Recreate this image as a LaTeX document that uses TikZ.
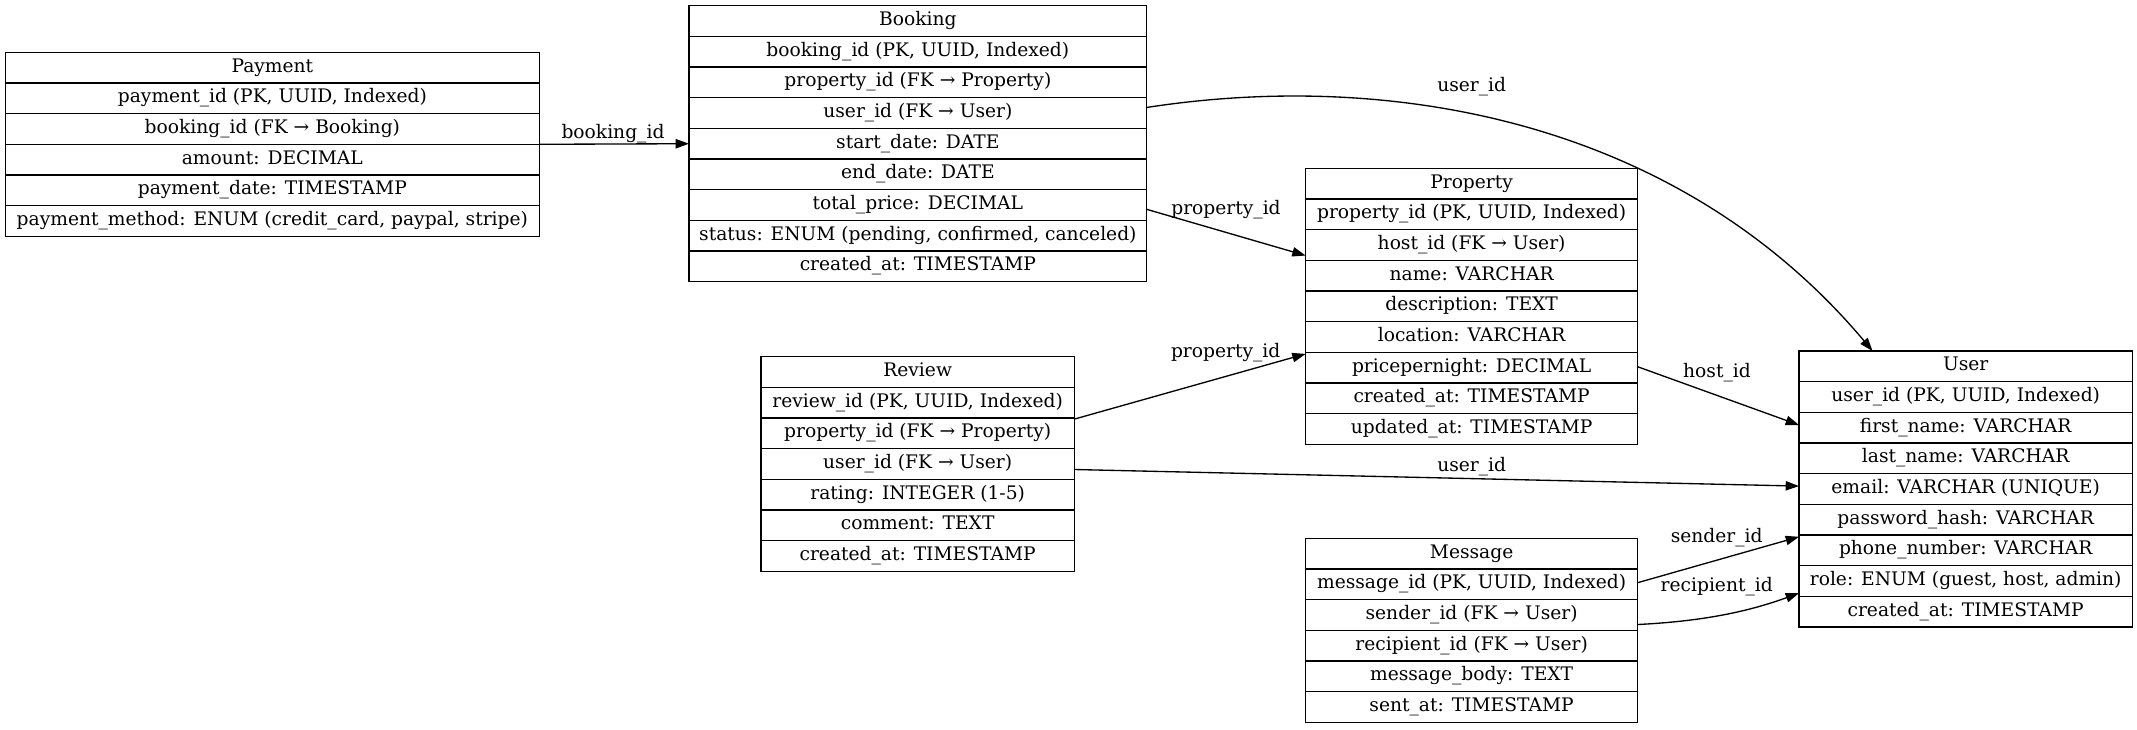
\documentclass[tikz,border=0pt]{standalone}
\usepackage{fontspec}
\setmainfont{DejaVu Serif}
\usetikzlibrary{arrows.meta}

\tikzset{
  tblframe/.style={rectangle, draw=black, line width=1pt, inner sep=0pt, outer sep=0pt},
  tblrow/.style={rectangle, inner sep=0pt, outer sep=0pt,
    minimum height=23pt, text height=9.9pt, text depth=3pt, anchor=north west},
  tblsep/.style={draw=black, line width=1pt},
  fk/.style={draw=black, line width=1pt, -{Triangle[length=10pt,width=7pt]}},
  fklabel/.style={inner sep=0pt, text height=9.9pt, text depth=3pt},
}

% \erdtable{name}{left}{top}{width}{number of rows}{rows}
\newcommand\erdtable[6]{%
  \node[tblframe, minimum width=#4*0.75pt, minimum height=#5*23pt, anchor=north west] (#1) at (#2,-#3) {};
  \foreach \txt [count=\i from 0] in {#6}{%
    \node[tblrow, minimum width=#4*0.75pt] (#1-\i) at (#2,{-#3-\i*30.6667}) {\txt};
    \ifnum\i>0
      \draw[tblsep] (#1-\i.north west) -- (#1-\i.north east);
    \fi
  }%
}

\begin{document}
\begin{tikzpicture}[x=0.75pt, y=0.75pt, font=\fontsize{14pt}{17pt}\selectfont]
\fill[white] (0,0) rectangle (2137,-729);
\useasboundingbox (0,0) rectangle (2137,-729);

\erdtable{payment}{5.4}{52.3}{533.9}{6}{
  Payment,
  {payment\_id (PK, UUID, Indexed)},
  {booking\_id (FK → Booking)},
  {amount: DECIMAL},
  {payment\_date: TIMESTAMP},
  {payment\_method: ENUM (credit\_card, paypal, stripe)}}

\erdtable{booking}{689}{5.7}{457.7}{9}{
  Booking,
  {booking\_id (PK, UUID, Indexed)},
  {property\_id (FK → Property)},
  {user\_id (FK → User)},
  {start\_date: DATE},
  {end\_date: DATE},
  {total\_price: DECIMAL},
  {status: ENUM (pending, confirmed, canceled)},
  {created\_at: TIMESTAMP}}

\erdtable{property}{1305.6}{168.3}{332}{9}{
  Property,
  {property\_id (PK, UUID, Indexed)},
  {host\_id (FK → User)},
  {name: VARCHAR},
  {description: TEXT},
  {location: VARCHAR},
  {pricepernight: DECIMAL},
  {created\_at: TIMESTAMP},
  {updated\_at: TIMESTAMP}}

\erdtable{user}{1799}{351}{333.3}{9}{
  User,
  {user\_id (PK, UUID, Indexed)},
  {first\_name: VARCHAR},
  {last\_name: VARCHAR},
  {email: VARCHAR (UNIQUE)},
  {password\_hash: VARCHAR},
  {phone\_number: VARCHAR},
  {role: ENUM (guest, host, admin)},
  {created\_at: TIMESTAMP}}

\erdtable{review}{761}{356.7}{313.3}{7}{
  Review,
  {review\_id (PK, UUID, Indexed)},
  {property\_id (FK → Property)},
  {user\_id (FK → User)},
  {rating: INTEGER (1-5)},
  {comment: TEXT},
  {created\_at: TIMESTAMP}}

\erdtable{message}{1305.6}{538.3}{332}{6}{
  Message,
  {message\_id (PK, UUID, Indexed)},
  {sender\_id (FK → User)},
  {recipient\_id (FK → User)},
  {message\_body: TEXT},
  {sent\_at: TIMESTAMP}}

% foreign-key relations
\draw[fk] (payment.east) -- (booking.west)
  node[fklabel] (l-booking) at (613,-133.5) {booking\_id};
\draw[fk] (booking.9.9) .. controls +(253,39) and +(-190,226) .. (user.124.6)
  node[fklabel] (l-booking-user) at (1471.7,-86.5) {user\_id};
\draw[fk] (booking.-16.5) -- (property.163.7)
  node[fklabel] (l-booking-property) at (1226,-210) {property\_id};
\draw[fk] (review.16) -- (property.-164.6)
  node[fklabel] (l-review-property) at (1225.7,-352.7) {property\_id};
\draw[fk] (property.-20.5) -- (user.159.8)
  node[fklabel] (l-host) at (1717,-372.5) {host\_id};
\draw[fk] (review.-2.2) -- (user.179.3)
  node[fklabel] (l-review-user) at (1471.7,-467) {user\_id};
\draw[fk] (message.16.1) -- (user.-164)
  node[fklabel] (l-sender) at (1716.7,-537.5) {sender\_id};
\draw[fk] (message.2.1) .. controls +(60,3) and +(-55,-20) .. (user.-148.9)
  node[fklabel] (l-recipient) at (1716.7,-587) {recipient\_id};
\end{tikzpicture}
\end{document}
